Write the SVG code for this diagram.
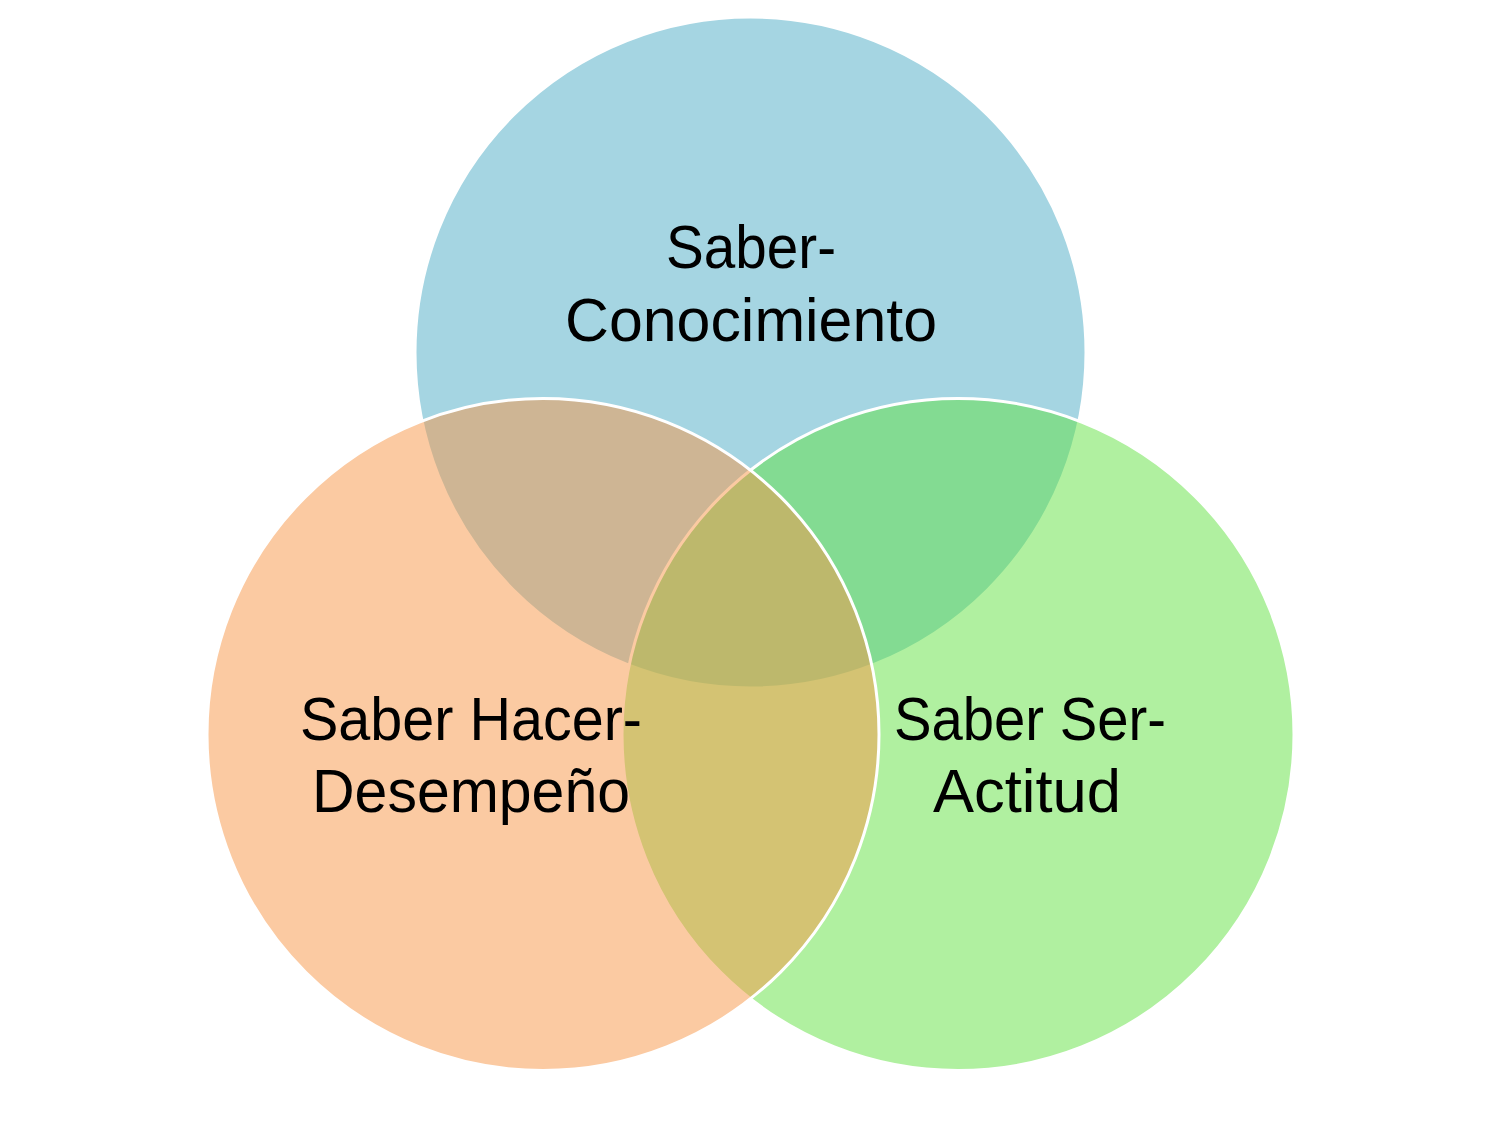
<svg xmlns="http://www.w3.org/2000/svg" width="1502" height="1127" viewBox="0 0 1502 1127">
<style>
.c{stroke:#FFFFFF;stroke-width:3;fill-opacity:0.5}
.t{font-family:"Liberation Sans",Arial,sans-serif;font-size:62px;fill:#000000;text-anchor:middle}
</style>
<rect width="1502" height="1127" fill="#FFFFFF"/>
<g id="conocimiento">
<circle class="c" cx="750.5" cy="352.5" r="335.5" fill="#4BACC6"/>
</g>
<g id="actitud">
<circle class="c" cx="958" cy="734.5" r="336" fill="#61E141"/>
</g>
<g id="desempeno">
<circle class="c" cx="543" cy="734.5" r="336" fill="#F79646"/>
</g>
<g id="connectors"></g>
<g id="labels">
<text class="t" x="751" y="268" textLength="170" lengthAdjust="spacingAndGlyphs">Saber-</text>
<text class="t" x="751" y="341" textLength="372" lengthAdjust="spacingAndGlyphs">Conocimiento</text>
<text class="t" x="471" y="740" textLength="342" lengthAdjust="spacingAndGlyphs">Saber Hacer-</text>
<text class="t" x="471" y="812" textLength="318" lengthAdjust="spacingAndGlyphs">Desempeño</text>
<text class="t" x="1030" y="740" textLength="272" lengthAdjust="spacingAndGlyphs">Saber Ser-</text>
<text class="t" x="1027" y="812" textLength="188" lengthAdjust="spacingAndGlyphs">Actitud</text>
</g>
</svg>
